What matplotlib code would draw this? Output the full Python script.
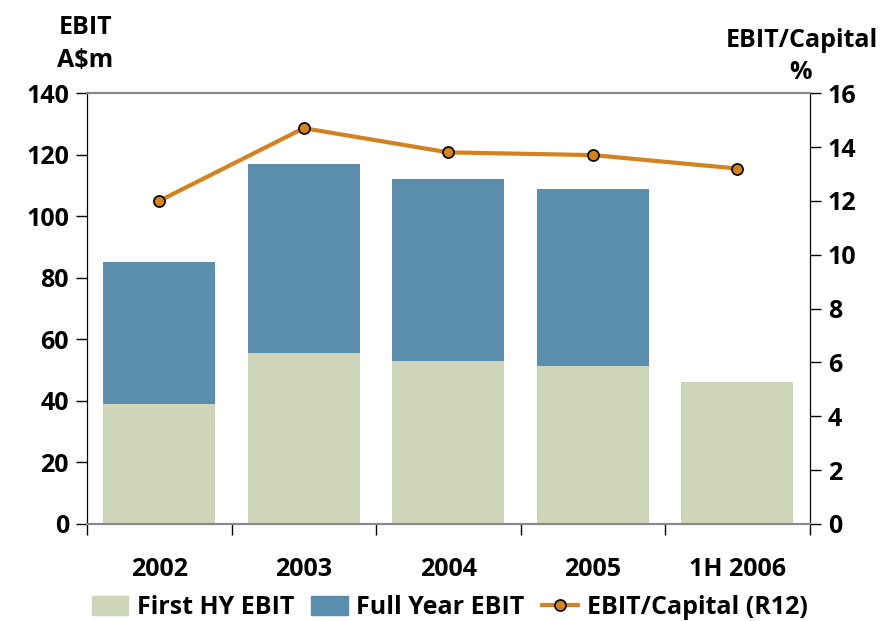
import matplotlib
matplotlib.use("Agg")
import matplotlib.pyplot as plt
from matplotlib.lines import Line2D
from matplotlib.patches import Patch

plt.rcParams['font.family'] = ['Open Sans', 'DejaVu Sans']

categories = ["2002", "2003", "2004", "2005", "1H 2006"]
first_hy_ebit = [39, 55.5, 53, 51.3, 46]
full_year_ebit = [85, 117, 112, 109, None]
ebit_capital = [12.0, 14.7, 13.8, 13.7, 13.2]

c_first = "#CED5B9"
c_full = "#5B8DAC"
c_line = "#D4821E"

fig = plt.figure(figsize=(8.82, 6.21), dpi=100)
ax = fig.add_axes([0.0986, 0.1562, 0.8194, 0.6938])
ax2 = ax.twinx()

x = list(range(len(categories)))
w = 0.775
for i in x:
    if full_year_ebit[i] is not None:
        ax.bar(i, full_year_ebit[i], width=w, color=c_full, zorder=2)
    ax.bar(i, first_hy_ebit[i], width=w, color=c_first, zorder=3)

ax2.plot(x, ebit_capital, color=c_line, lw=3, marker='o', ms=8,
         mfc=c_line, mec='black', mew=1.2, zorder=5)

ax.set_xlim(-0.5, len(categories) - 0.5)
ax.set_ylim(0, 140)
ax2.set_ylim(0, 16)
ax.set_yticks(range(0, 141, 20))
ax2.set_yticks(range(0, 17, 2))

ax.set_xticks(x)
ax.set_xticklabels(categories)
ax.set_xticks([i - 0.5 for i in range(len(categories) + 1)], minor=True)
ax.tick_params(axis='x', which='major', length=0, pad=24)
ax.tick_params(axis='x', which='minor', length=8, width=1, color='black', direction='out')

fs = 18
fw = 'bold'
for lab in ax.get_xticklabels() + ax.get_yticklabels() + ax2.get_yticklabels():
    lab.set_fontsize(fs)
    lab.set_fontweight(fw)
ax.tick_params(axis='y', length=8, width=1, direction='out', pad=5)
ax2.tick_params(axis='y', length=8, width=1, direction='out', pad=5)

for a in (ax, ax2):
    a.spines['top'].set_color('#888888')
    a.spines['bottom'].set_color('#888888')
    a.spines['top'].set_linewidth(1.5)
    a.spines['bottom'].set_linewidth(1.5)
    a.spines['left'].set_color('black')
    a.spines['right'].set_color('black')

fig.text(0.097, 0.955, "EBIT", ha='center', va='center', fontsize=fs, fontweight=fw)
fig.text(0.097, 0.903, "A$m", ha='center', va='center', fontsize=fs, fontweight=fw)
fig.text(0.996, 0.935, "EBIT/Capital", ha='right', va='center', fontsize=fs, fontweight=fw)
fig.text(0.908, 0.883, "%", ha='center', va='center', fontsize=fs, fontweight=fw)

handles = [
    Patch(color=c_first, label="First HY EBIT"),
    Patch(color=c_full, label="Full Year EBIT"),
    Line2D([0], [0], color=c_line, lw=3, marker='o', ms=8, mfc=c_line,
           mec='black', mew=1.2, label="EBIT/Capital (R12)"),
]
leg = fig.legend(handles=handles, loc='center', bbox_to_anchor=(0.51, 0.022),
                 ncol=3, frameon=False, fontsize=fs, handlelength=1.45,
                 handleheight=0.8, handletextpad=0.35, columnspacing=0.7,
                 borderaxespad=0)
for t in leg.get_texts():
    t.set_fontweight(fw)

fig.savefig("out.png", dpi=100)
